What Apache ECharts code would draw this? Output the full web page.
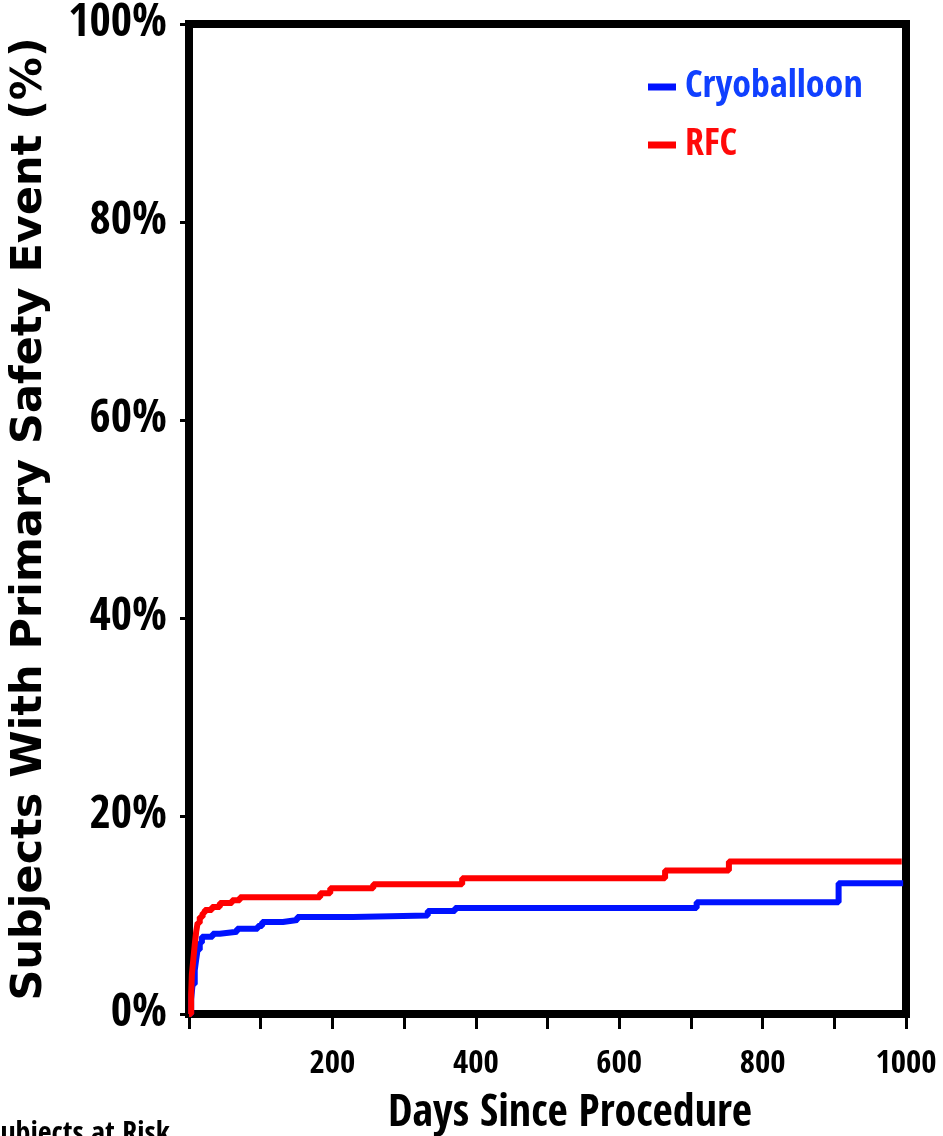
<!DOCTYPE html>
<html>
<head>
<meta charset="utf-8">
<script src="https://cdn.jsdelivr.net/npm/echarts@6/dist/echarts.min.js"></script>
<style>
  html, body { margin: 0; padding: 0; background: #fff; }
  #chart { width: 943px; height: 1136px; }
</style>
</head>
<body>
<div id="chart"></div>
<script>
// Cumulative incidence of the primary safety endpoint (Kaplan-Meier style steps)
const cryoName = 'Cryoballoon';
const rfcName = 'RFC';

const cryoDays = [0, 3, 5, 8, 10, 12, 15, 18, 33, 43, 67, 96, 102, 131, 151, 229, 333, 371, 708, 906, 996];
const cryoPct  = [0, 1.5, 3, 4.4, 5.5, 6.5, 7.2, 7.8, 8.1, 8.3, 8.6, 8.9, 9.3, 9.5, 9.8, 9.95, 10.4, 10.7, 11.3, 13.2, 13.2];

const rfcDays = [0, 3, 4, 6, 8, 10, 12, 15, 19, 22, 32, 43, 60, 71, 183, 197, 257, 381, 664, 753, 994];
const rfcPct  = [0, 2, 4, 5.5, 7, 8.3, 9.2, 9.8, 10.2, 10.5, 10.8, 11.2, 11.5, 11.8, 12.2, 12.7, 13.1, 13.7, 14.5, 15.4, 15.4];

const xLabelValues = [200, 400, 600, 800, 1000];
const yTicks = [0, 20, 40, 60, 80, 100];

const COND = "'Open Sans Condensed', 'Roboto Condensed', sans-serif";
const WIDE = "'DejaVu Sans', sans-serif";
const BLUE = '#0012ff';
const RED = '#ff0000';

const pairs = (xs, ys) => xs.map((x, i) => [x, ys[i]]);

const chart = echarts.init(document.getElementById('chart'), null, { renderer: 'canvas' });

chart.setOption({
  backgroundColor: '#ffffff',
  animation: false,
  grid: {
    left: 189, right: 37, top: 24, bottom: 122, outerBoundsMode: 'none',
    show: true, borderColor: '#000', borderWidth: 8, backgroundColor: 'transparent'
  },
  legend: {
    orient: 'vertical',
    left: 643, top: 63,
    itemWidth: 28, itemHeight: 7, itemGap: 20,
    icon: 'rect',
    data: [
      { name: cryoName, textStyle: { color: '#1040ff' } },
      { name: rfcName, textStyle: { color: '#ff0a0a' } }
    ],
    textStyle: { fontFamily: COND, fontWeight: 'bold', fontSize: 38, padding: [0, 0, 0, 4] }
  },
  xAxis: {
    type: 'value', min: 0, max: 1000, interval: 100,
    axisLine: { show: true, lineStyle: { color: '#000', width: 8 } },
    axisTick: { show: true, inside: false, length: 15, lineStyle: { color: '#000', width: 3 } },
    splitLine: { show: false },
    axisLabel: {
      margin: 34, color: '#000', fontFamily: COND, fontWeight: 'bold', fontSize: 33,
      formatter: v => xLabelValues.includes(v) ? String(v) : ''
    }
  },
  yAxis: {
    type: 'value', min: 0, max: 100, interval: 20,
    name: 'Subjects With Primary Safety Event (%)',
    nameLocation: 'middle', nameRotate: 90, nameGap: 138,
    nameTextStyle: { color: '#000', fontFamily: WIDE, fontWeight: 'bold', fontSize: 43 },
    axisLine: { show: true, lineStyle: { color: '#000', width: 8 } },
    axisTick: { show: true, inside: false, length: 9, lineStyle: { color: '#000', width: 3 } },
    splitLine: { show: false },
    axisLabel: {
      margin: 22, color: '#000', fontFamily: COND, fontWeight: 'bold', fontSize: 46,
      formatter: v => yTicks.includes(v) ? v + '%' : ''
    }
  },
  graphic: [
    {
      type: 'text', left: 388, top: 1093,
      style: { text: 'Days Since Procedure', fill: '#000', font: "bold 44px " + COND }
    },
    {
      type: 'text', left: -12, top: 1120,
      style: { text: 'Subjects at Risk', fill: '#000', font: "bold 30px " + COND }
    }
  ],
  series: [
    {
      name: cryoName, type: 'line', step: 'end', showSymbol: false,
      data: pairs(cryoDays, cryoPct),
      color: BLUE,
      lineStyle: { color: BLUE, width: 6 }
    },
    {
      name: rfcName, type: 'line', step: 'end', showSymbol: false,
      data: pairs(rfcDays, rfcPct),
      color: RED,
      lineStyle: { color: RED, width: 6 }
    }
  ]
});
</script>
</body>
</html>
